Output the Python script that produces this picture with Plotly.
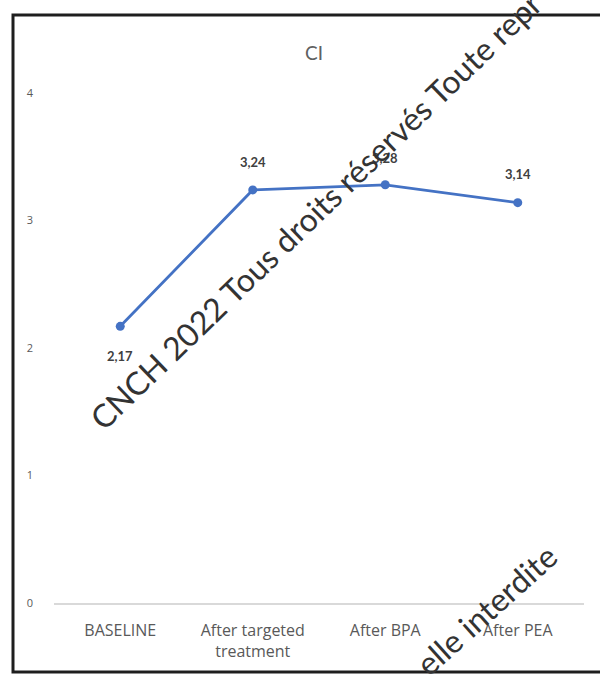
import plotly.graph_objects as go

categories = ["BASELINE", "After targeted<br>treatment", "After BPA", "After PEA"]
values = [2.17, 3.24, 3.28, 3.14]
label_shift = [-30, 28, 27, 29]
y_ticks = [0, 1, 2, 3, 4]
title_text = "CI"
watermark_1 = "CNCH 2022 Tous droits réservés Toute repr"
watermark_2 = "elle interdite"

W, H = 600, 678
# on-screen plot area
SL, SR, ST, SB = 54, 584, 42, 603
L, T = SL, ST
R, B = W - SR, H - SB
PW, PH = SR - SL, SB - ST


def px(x):
    return (x - SL) / PW


def py(y):
    return (SB - y) / PH


fig = go.Figure()
fig.add_trace(go.Scatter(
    x=categories, y=values, mode="lines+markers",
    line=dict(color="#4472C4", width=2.8),
    marker=dict(color="#4472C4", size=9),
    hoverinfo="skip", showlegend=False,
))

annotations = []
for c, v, s in zip(categories, values, label_shift):
    annotations.append(dict(
        x=c, y=v, xref="x", yref="y", text=f"{v:.2f}".replace(".", ","),
        showarrow=False, yshift=s, xanchor="center", yanchor="middle",
        font=dict(family="Lato", size=13, color="#404040", weight="bold"),
    ))

annotations.append(dict(
    x=px(315), y=py(210), xref="paper", yref="paper", text=watermark_1,
    showarrow=False, textangle=-44, xanchor="center", yanchor="middle",
    font=dict(family="Lato", size=32, color="#333333"),
))
annotations.append(dict(
    x=px(486), y=py(609), xref="paper", yref="paper", text=watermark_2,
    showarrow=False, textangle=-42, xanchor="center", yanchor="middle",
    font=dict(family="Lato", size=32, color="#333333"),
))

fig.update_layout(
    width=W, height=H,
    margin=dict(l=L, r=R, t=T, b=B),
    paper_bgcolor="white", plot_bgcolor="white",
    title=dict(text=title_text, x=314 / W, xanchor="center",
               y=1 - 53 / H, yanchor="middle",
               font=dict(family="Lato", size=19, color="#606060")),
    annotations=annotations,
    shapes=[dict(type="rect", xref="paper", yref="paper",
                 x0=px(13), x1=px(640), y0=py(672), y1=py(15),
                 line=dict(color="#1e1e1e", width=3), layer="above")],
    xaxis=dict(range=[-0.5, 3.5], showgrid=False, showline=True,
               linecolor="#d9d9d9", linewidth=1.5,
               ticks="", ticklabelstandoff=12,
               tickfont=dict(family="Open Sans", size=16, color="#595959"),
               zeroline=False),
    yaxis=dict(range=[0, 4.4], tickvals=y_ticks, showgrid=False, zeroline=False,
               showline=False, ticks="", ticklabelstandoff=20,
               tickfont=dict(family="Open Sans", size=11, color="#595959")),
)

fig.write_html(
    "out.html",
    config={"displayModeBar": False, "staticPlot": True},
    post_script="document.body.style.margin='0';document.body.style.overflow='hidden';",
)
